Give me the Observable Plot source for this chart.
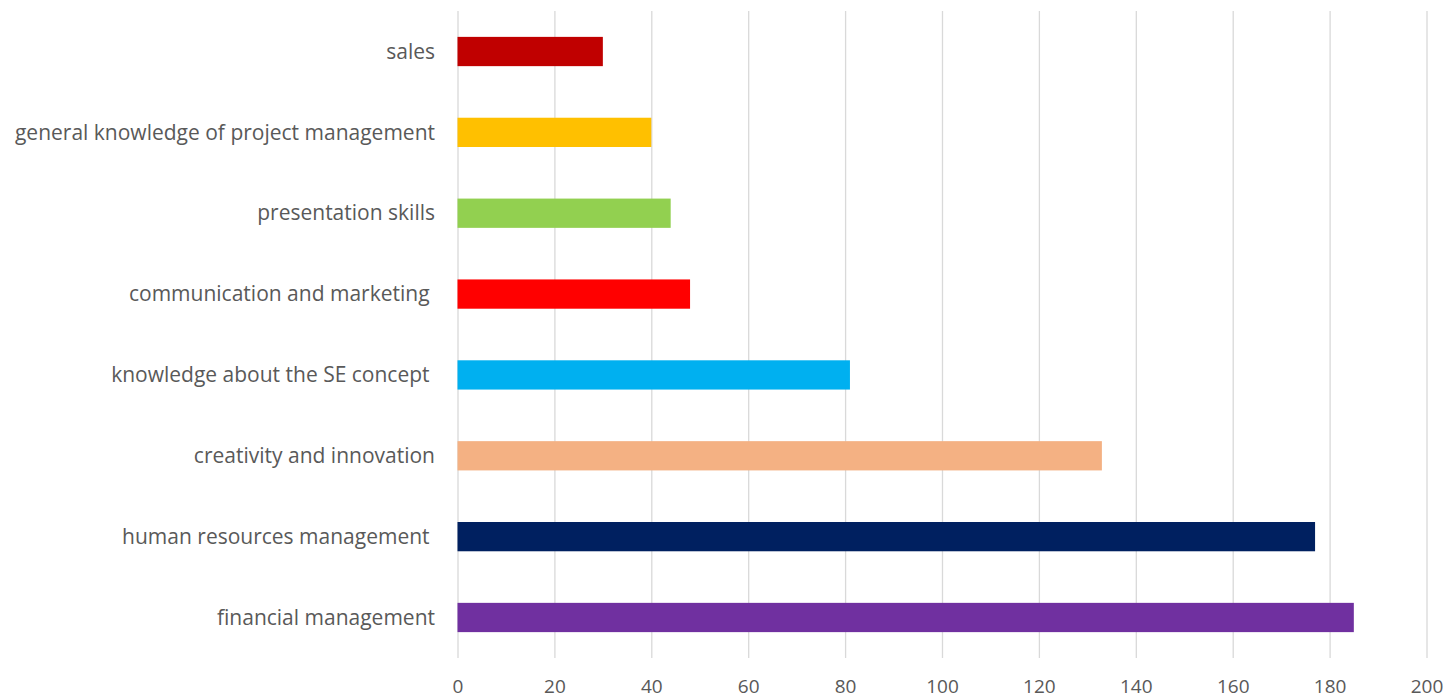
<!DOCTYPE html>
<html>
<head>
<meta charset="utf-8">
<script src="https://cdn.jsdelivr.net/npm/d3@7"></script>
<script src="https://cdn.jsdelivr.net/npm/@observablehq/plot@0.6"></script>
<style>
  html, body { margin: 0; padding: 0; background: #ffffff; }
  #chart { width: 1450px; height: 699px; }
  svg { font-family: "Open Sans", sans-serif; }
</style>
</head>
<body>
<div id="chart"></div>
<script>
// Data (top to bottom)
const categories = [
  "sales",
  "general knowledge of project management",
  "presentation skills",
  "communication and marketing ",
  "knowledge about the SE concept ",
  "creativity and innovation",
  "human resources management ",
  "financial management"
];
const values = [30, 40, 44, 48, 81, 133, 177, 185];
const colors = ["#C00000", "#FFC000", "#92D050", "#FF0000", "#00B0F0", "#F4B183", "#002060", "#7030A0"];
const xTicks = [0, 20, 40, 60, 80, 100, 120, 140, 160, 180, 200];

const data = categories.map((c, i) => ({ category: c, value: values[i], color: colors[i] }));

const chart = Plot.plot({
  width: 1450,
  height: 699,
  marginLeft: 457.5,
  marginRight: 23.5,
  marginTop: 11,
  marginBottom: 41,
  style: { fontFamily: "Open Sans, sans-serif", background: "transparent" },
  x: { domain: [0, 200], ticks: xTicks, label: null },
  y: { domain: categories, paddingInner: 0.638, paddingOuter: 0.32, round: false, label: null },
  marks: [
    Plot.gridX(xTicks, { stroke: "#d9d9d9", strokeOpacity: 1, strokeWidth: 1.3 }),
    Plot.barX(data, { y: "category", x: "value", fill: "color" }),
    Plot.axisX({
      ticks: xTicks, tickSize: 0, tickPadding: 21, fontSize: 19, fill: "#595959",
      label: null
    }),
    Plot.axisY({
      tickSize: 0, tickPadding: 23, fontSize: 21, fill: "#595959", label: null,
      tickFormat: d => d.replace(/ $/, "\u00a0")
    })
  ]
});
document.getElementById("chart").appendChild(chart);
</script>
</body>
</html>
